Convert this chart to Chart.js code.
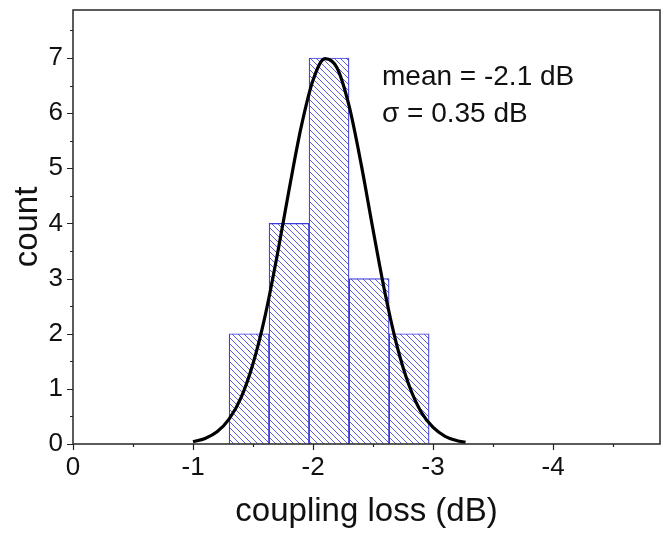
<!DOCTYPE html>
<html>
<head>
<meta charset="utf-8">
<title>coupling loss histogram</title>
<script src="https://cdn.jsdelivr.net/npm/chart.js@4.4.1/dist/chart.umd.min.js"></script>
<style>
    body { margin: 0; background: #fff; }
    #wrap { width: 666px; height: 535px; }
</style>
</head>
<body>
<div id="wrap"><canvas id="histChart" width="666" height="535"></canvas></div>
<script>
// histogram bins (centres, dB) and counts
var binCenters = [-1.467, -1.8, -2.133, -2.467, -2.8];
var counts = [2, 4, 7, 3, 2];

// gaussian fit curve
var curveX = [-1.0, -1.1, -1.2, -1.3, -1.4, -1.5, -1.6, -1.7, -1.8, -1.9, -2.0, -2.1,
              -2.2, -2.3, -2.4, -2.5, -2.6, -2.7, -2.8, -2.9, -3.0, -3.1, -3.2, -3.27];
var curveY = [0.04, 0.10, 0.22, 0.45, 0.84, 1.46, 2.32, 3.41, 4.61, 5.74, 6.60, 6.99,
              6.82, 6.13, 5.08, 3.88, 2.73, 1.77, 1.06, 0.58, 0.30, 0.14, 0.06, 0.03];

var xTicks = [0, -1, -2, -3, -4];
var yTicks = [0, 1, 2, 3, 4, 5, 6, 7];
var annotation = ['mean = -2.1 dB', '\u03c3 = 0.35 dB'];

function hatchPattern() {
    var s = 6;
    var c = document.createElement('canvas');
    c.width = s;
    c.height = s;
    var g = c.getContext('2d');
    g.fillStyle = '#ffffff';
    g.fillRect(0, 0, s, s);
    g.strokeStyle = '#5c5ce2';
    g.lineWidth = 1;
    for (var k = -1; k <= 1; k++) {
        g.beginPath();
        g.moveTo(k * s - 1, -1);
        g.lineTo(k * s + s + 1, s + 1);
        g.stroke();
    }
    return g.createPattern(c, 'repeat');
}

function noPad(scale) {
    scale.paddingTop = 0;
    scale.paddingBottom = 0;
    scale.paddingLeft = 0;
    scale.paddingRight = 0;
}

var framePlugin = {
    id: 'frame',
    afterDraw: function(chart) {
        var ctx = chart.ctx;
        var a = chart.chartArea;
        var xs = chart.scales.x;
        var ys = chart.scales.y;
        ctx.save();
        ctx.strokeStyle = '#333';
        ctx.lineWidth = 1.6;
        ctx.strokeRect(a.left, a.top, a.right - a.left, a.bottom - a.top);

        // major + minor ticks, outward
        ctx.lineWidth = 1.2;
        ctx.strokeStyle = '#222';
        ctx.beginPath();
        for (var v = 0; v >= -4.5; v -= 0.5) {
            var px = Math.round(xs.getPixelForValue(v)) + 0.5;
            var len = (v % 1 === 0) ? 6 : 3;
            ctx.moveTo(px, a.bottom);
            ctx.lineTo(px, a.bottom + len);
        }
        for (var w = 0; w <= 7.5; w += 0.5) {
            var py = Math.round(ys.getPixelForValue(w)) + 0.5;
            var l2 = (w % 1 === 0) ? 6 : 3;
            ctx.moveTo(a.left, py);
            ctx.lineTo(a.left - l2, py);
        }
        ctx.stroke();

        // axis titles
        ctx.fillStyle = '#111';
        ctx.font = '33px "Liberation Sans", Arial, sans-serif';
        ctx.textAlign = 'center';
        ctx.textBaseline = 'alphabetic';
        ctx.fillText('coupling loss (dB)', (a.left + a.right) / 2, 521);
        ctx.save();
        ctx.translate(37, (a.top + a.bottom) / 2);
        ctx.rotate(-Math.PI / 2);
        ctx.fillText('count', 0, 0);
        ctx.restore();

        // fit annotation
        ctx.font = '28px "Liberation Sans", Arial, sans-serif';
        ctx.textAlign = 'left';
        ctx.fillText(annotation[0], 382, 85);
        ctx.fillText(annotation[1], 382, 122);
        ctx.restore();
    }
};

document.addEventListener('DOMContentLoaded', function() {
    var barData = binCenters.map(function(x, i) { return { x: x, y: counts[i] }; });
    var lineData = curveX.map(function(x, i) { return { x: x, y: curveY[i] }; });

    var ctx = document.getElementById('histChart').getContext('2d');
    var histChart = new Chart(ctx, {
        type: 'bar',
        data: {
            datasets: [{
                type: 'line',
                label: 'fit',
                data: lineData,
                borderColor: '#000',
                borderWidth: 3.2,
                cubicInterpolationMode: 'monotone',
                pointRadius: 0,
                fill: false,
                order: 0
            }, {
                type: 'bar',
                label: 'count',
                data: barData,
                backgroundColor: hatchPattern(),
                borderColor: '#3a3ad8',
                borderWidth: 1.2,
                barPercentage: 1,
                categoryPercentage: 1,
                order: 1
            }]
        },
        options: {
            responsive: false,
            animation: false,
            layout: {
                padding: { top: 10, right: 6, left: 0, bottom: 0 }
            },
            scales: {
                x: {
                    type: 'linear',
                    reverse: true,
                    offset: false,
                    min: -4.89,
                    max: 0,
                    grid: { display: false, drawTicks: false },
                    border: { display: false },
                    afterFit: function(scale) { scale.height = 91; noPad(scale); },
                    afterBuildTicks: function(scale) {
                        scale.ticks = xTicks.map(function(v) { return { value: v }; });
                    },
                    ticks: {
                        autoSkip: false,
                        maxRotation: 0,
                        padding: 8,
                        color: '#111',
                        font: { family: '"Liberation Sans", Arial, sans-serif', size: 26 },
                        callback: function(v) { return v === 0 ? '0' : String(v); }
                    }
                },
                y: {
                    min: 0,
                    max: 7.87,
                    grid: { display: false, drawTicks: false },
                    border: { display: false },
                    afterFit: function(scale) { scale.width = 73; noPad(scale); },
                    afterBuildTicks: function(scale) {
                        scale.ticks = yTicks.map(function(v) { return { value: v }; });
                    },
                    ticks: {
                        padding: 10,
                        color: '#111',
                        font: { family: '"Liberation Sans", Arial, sans-serif', size: 26 }
                    }
                }
            },
            plugins: {
                legend: { display: false },
                tooltip: { enabled: false }
            }
        },
        plugins: [framePlugin]
    });
});
</script>
</body>
</html>
